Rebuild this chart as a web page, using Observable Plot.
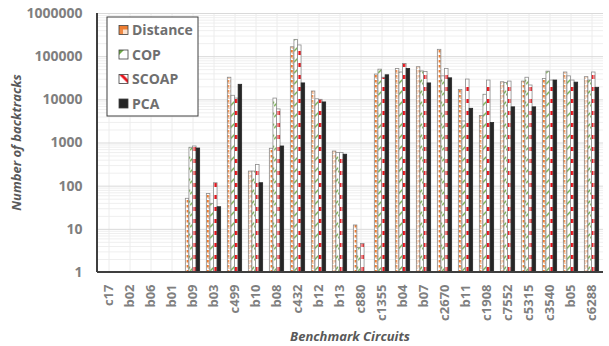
<!DOCTYPE html>
<html><head><meta charset="utf-8">
<script src="https://cdn.jsdelivr.net/npm/d3@7"></script>
<script src="https://cdn.jsdelivr.net/npm/@observablehq/plot@0.6"></script>
<style>
body{margin:0;background:#fff;}
#chart{position:relative;width:609px;height:346px;}
</style></head><body><div id="chart"></div>
<script>
const categories = ["c17","b02","b06","b01","b09","b03","c499","b10","b08","c432","b12","b13","c880","c1355","b04","b07","c2670","b11","c1908","c7552","c5315","c3540","b05","c6288"];
const seriesNames = ["Distance","COP","SCOAP","PCA"];
const distance = [null,null,null,null,51,66,32500,218,735,165000,15600,635,12.3,38500,52000,57000,144000,17000,4200,25500,26500,30500,43000,33500];
const cop      = [null,null,null,null,775,39,12400,218,10700,245000,10300,590,3.7,50000,43000,45500,35000,3150,13100,24700,32500,45000,35000,28000];
const scoap    = [null,null,null,null,830,117,10700,310,6000,182000,10000,590,4.6,32500,68000,44000,52000,29500,28000,26500,21500,28000,28000,43000];
const pca      = [null,null,null,null,745,32.5,22300,117,830,24000,8700,535,null,37000,52000,24000,31500,6200,2900,6700,6700,28000,25000,19000];
const majorTicks = [1,10,100,1000,10000,100000,1000000];

const seriesValues = [distance, cop, scoap, pca];
const fills = ["url(#pDist)","url(#pCop)","url(#pScoap)","#262626"];
const strokes = ["#8c8c8c","#8c8c8c","#8c8c8c","#262626"];

const rows = [];
seriesNames.forEach((s,i)=>categories.forEach((c,j)=>{
  const v = seriesValues[i][j];
  if (v != null) rows.push({category:c, series:s, value:v});
}));
const minorTicks = [];
for (let e=0;e<6;e++) for (let k=2;k<=9;k++) minorTicks.push(k*Math.pow(10,e));

const W=609,H=346,mL=97,mR=6,mT=13,mB=74;
const band = (W-mL-mR)/categories.length;
const barW = 3.6;
const inset = (band-barW)/2;

const plot = Plot.plot({
  width:W, height:H, marginLeft:mL, marginRight:mR, marginTop:mT, marginBottom:mB,
  style:{fontFamily:"'Open Sans', sans-serif", background:"#fff", overflow:"visible"},
  x:{domain:categories, padding:0, axis:null},
  y:{type:"log", domain:[1,1e6], axis:null},
  marks:[
    Plot.ruleY(minorTicks,{stroke:"#efefef", strokeWidth:1}),
    Plot.ruleX(categories,{x:d=>d, stroke:"#ececec", strokeWidth:1}),
    Plot.ruleY(majorTicks,{stroke:"#d9d9d9", strokeWidth:1}),
    ...seriesNames.map((s,i)=>Plot.barY(rows.filter(r=>r.series===s),{
      x:"category", y1:1, y2:"value", fill:fills[i], stroke:strokes[i], strokeWidth:0.8,
      insetLeft:inset, insetRight:inset, dx:(i-1.5)*barW
    })),
    Plot.axisY({ticks:majorTicks, tickFormat:d=>String(d), tickSize:0, tickPadding:15, fontSize:14, fontWeight:"bold", fill:"#7f7f7f", label:null}),
    Plot.axisX({tickRotate:-90, tickSize:0, tickPadding:12, fontSize:13, fontWeight:"bold", fill:"#7f7f7f", label:null})
  ]
});

const svg = d3.select(plot);
const defs = svg.insert("defs",":first-child");
let p = defs.append("pattern").attr("id","pDist").attr("patternUnits","userSpaceOnUse").attr("width",4).attr("height",5);
p.append("rect").attr("width",4).attr("height",5).attr("fill","#fff");
p.append("rect").attr("x",0).attr("y",0).attr("width",2.5).attr("height",2.5).attr("fill","#ed7d31");
p.append("rect").attr("x",1.5).attr("y",2.5).attr("width",1.5).attr("height",1.5).attr("fill","#f4b183");
p = defs.append("pattern").attr("id","pCop").attr("patternUnits","userSpaceOnUse").attr("width",4).attr("height",11);
p.append("rect").attr("width",4).attr("height",11).attr("fill","#fff");
p.append("path").attr("d","M0,6 L4,2 L4,4 L0,8 Z").attr("fill","#70ad47");
p = defs.append("pattern").attr("id","pScoap").attr("patternUnits","userSpaceOnUse").attr("width",4).attr("height",12);
p.append("rect").attr("width",4).attr("height",12).attr("fill","#fff");
p.append("rect").attr("x",0.5).attr("y",3).attr("width",3).attr("height",4).attr("fill","#e8141b");
p = defs.append("pattern").attr("id","sDist").attr("patternUnits","objectBoundingBox").attr("width",1).attr("height",1);
p.append("rect").attr("width",9).attr("height",9).attr("fill","#ed7d31");
p.append("rect").attr("x",4).attr("y",4).attr("width",5).attr("height",5).attr("fill","#fbe0cc");
p.append("rect").attr("x",0).attr("y",4).attr("width",4).attr("height",5).attr("fill","#f08a45");
p = defs.append("pattern").attr("id","sCop").attr("patternUnits","objectBoundingBox").attr("width",1).attr("height",1);
p.append("rect").attr("width",9).attr("height",9).attr("fill","#fff");
p.append("path").attr("d","M0,0 L5,0 L0,5 Z").attr("fill","#70ad47");
p = defs.append("pattern").attr("id","sScoap").attr("patternUnits","objectBoundingBox").attr("width",1).attr("height",1);
p.append("rect").attr("width",9).attr("height",9).attr("fill","#fff");
p.append("path").attr("d","M0,0 L4,0 L9,5 L9,9 Z").attr("fill","#e8141b");

svg.append("line").attr("x1",mL).attr("x2",mL).attr("y1",mT).attr("y2",H-mB).attr("stroke","#3f3f3f").attr("stroke-width",2);
svg.append("line").attr("x1",mL).attr("x2",W-mR).attr("y1",H-mB).attr("y2",H-mB).attr("stroke","#3f3f3f").attr("stroke-width",2);

svg.append("text").attr("transform",`translate(21,${(mT+H-mB)/2}) rotate(-90)`).attr("text-anchor","middle")
  .attr("font-family","'Open Sans', sans-serif").attr("font-size",13).attr("font-weight","bold").attr("font-style","italic").attr("fill","#595959")
  .text("Number of backtracks");
svg.append("text").attr("x",(mL+W-mR)/2).attr("y",341).attr("text-anchor","middle")
  .attr("font-family","'Open Sans', sans-serif").attr("font-size",13).attr("font-weight","bold").attr("font-style","italic").attr("fill","#595959")
  .text("Benchmark Circuits");

const lg = svg.append("g").attr("transform","translate(107,17)");
lg.append("rect").attr("width",91).attr("height",99).attr("fill","#fff").attr("stroke","#404040").attr("stroke-width",1);
const swFill = ["url(#sDist)","url(#sCop)","url(#sScoap)","#262626"];
seriesNames.forEach((s,i)=>{
  const y = 13 + i*24.5;
  lg.append("rect").attr("x",12).attr("y",y-4.5).attr("width",9).attr("height",9).attr("fill",swFill[i]).attr("stroke","#404040").attr("stroke-width",0.8);
  lg.append("text").attr("x",25).attr("y",y).attr("dy","0.36em").attr("text-anchor","start")
    .attr("font-family","'Open Sans', sans-serif").attr("font-size",14).attr("font-weight","bold").attr("fill","#6f6f6f").text(s);
});

document.getElementById("chart").appendChild(plot);
</script></body></html>
